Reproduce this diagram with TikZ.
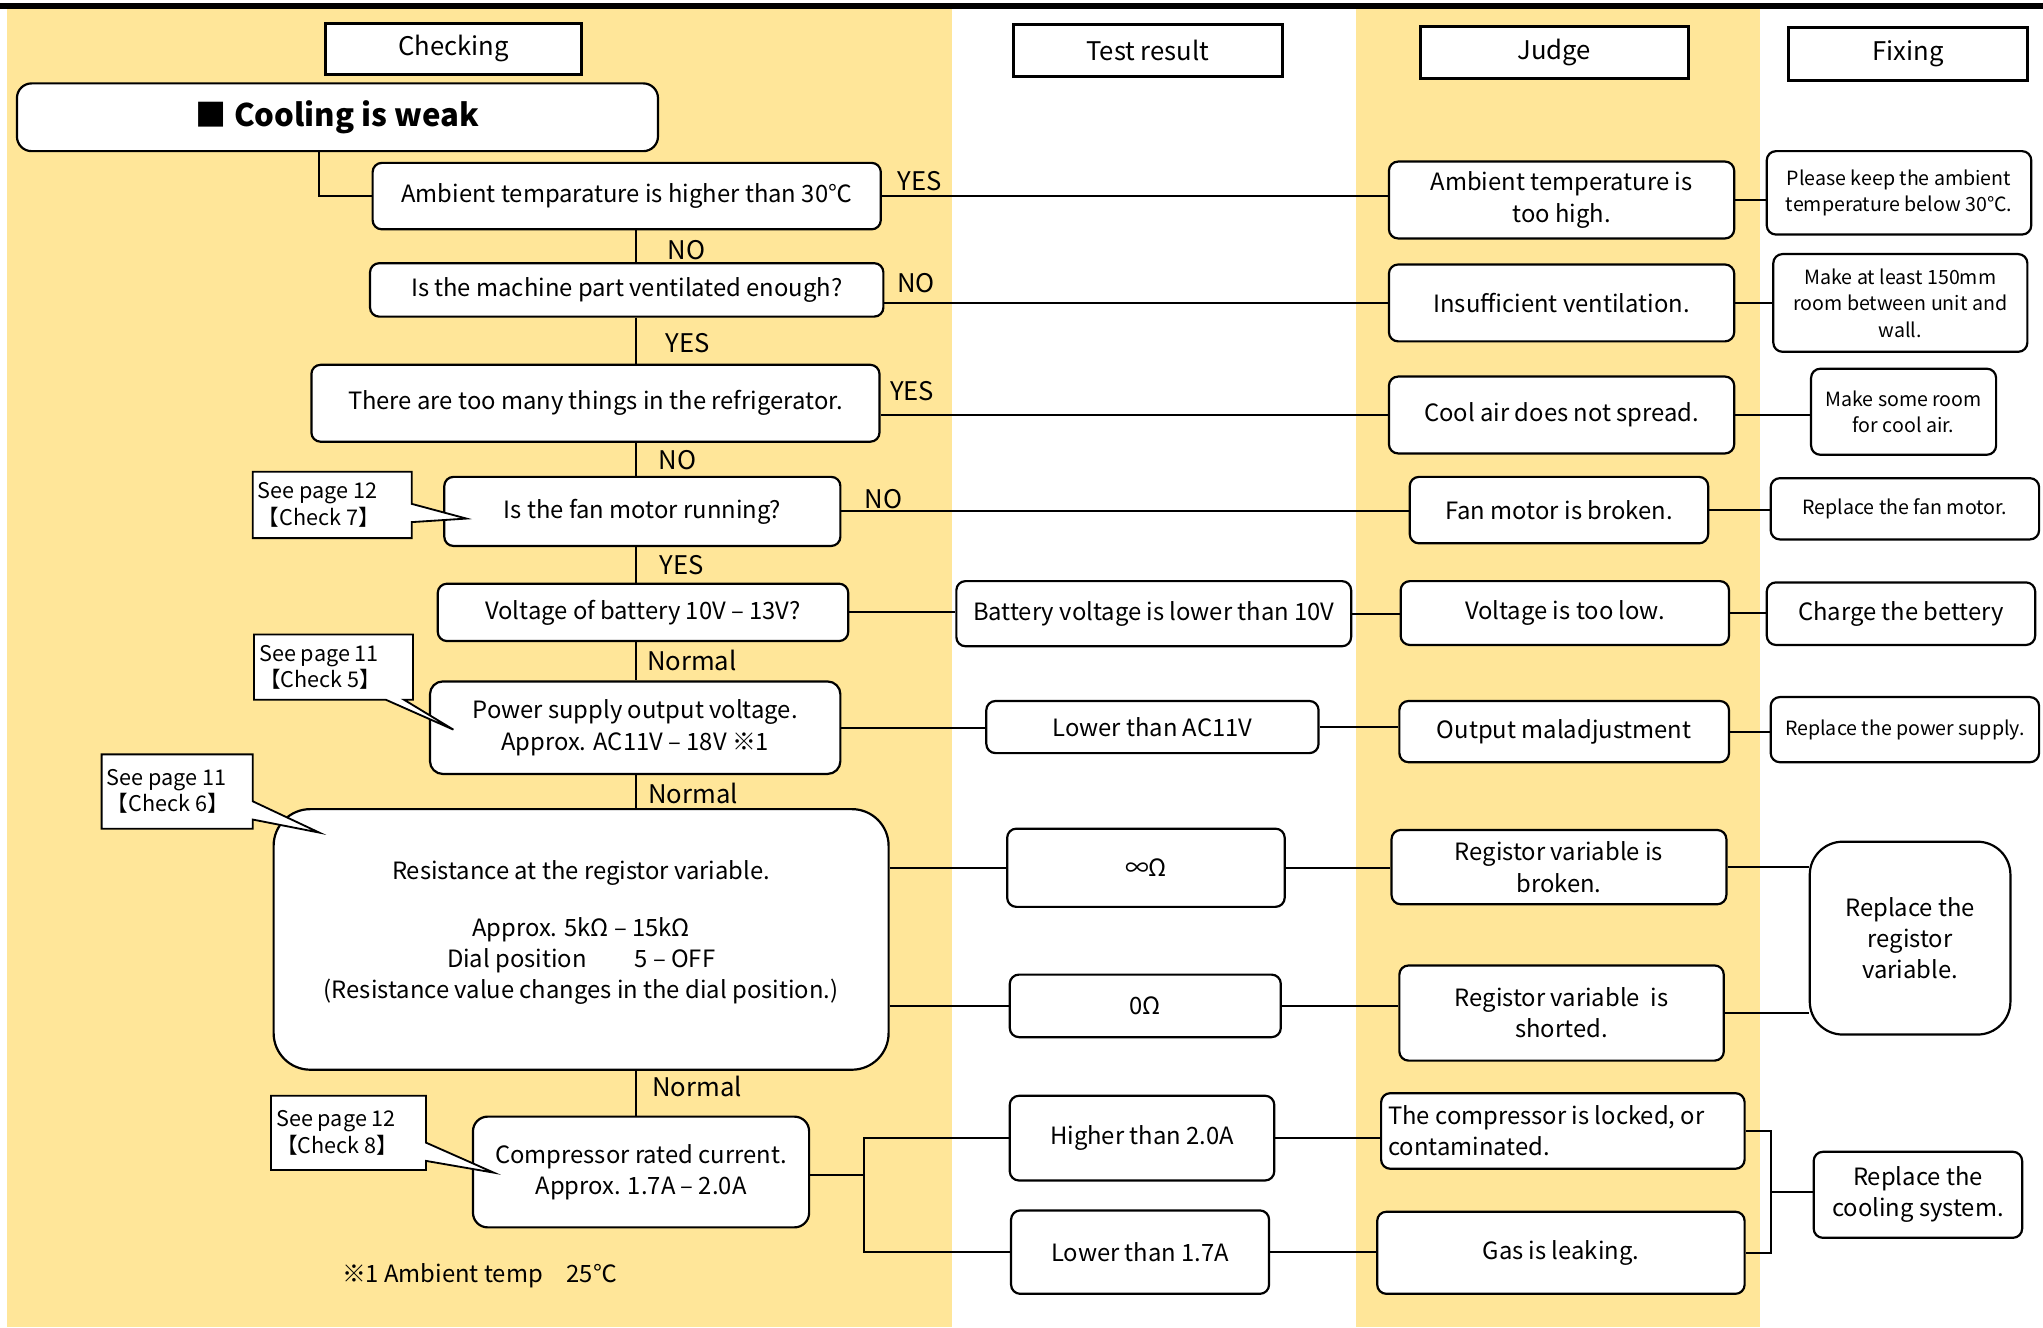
\documentclass[tikz,border=0pt]{standalone}
\usepackage{fontspec}
\setmainfont{Noto Sans CJK JP}
\usetikzlibrary{shapes.callouts}
\definecolor{band}{HTML}{FFE699}
\newcommand\fmain{\fontsize{13pt}{17pt}\selectfont}
\newcommand\fhead{\fontsize{14pt}{17pt}\selectfont}
\newcommand\fsmall{\fontsize{10.7pt}{14.5pt}\selectfont}
\newcommand\fcall{\fontsize{11.8pt}{14.3pt}\selectfont}
\newcommand\ftitle{\fontsize{17pt}{22pt}\selectfont\bfseries}
\begin{document}
\begin{tikzpicture}[x=0.025cm, y=-0.025cm, font=\fmain,
    sz/.style 2 args={minimum width=#1*0.025cm, minimum height=#2*0.025cm},
    head/.style={draw, line width=1.6pt, fill=white, inner sep=0, font=\fhead},
    box/.style={draw, line width=1.2pt, fill=white, rounded corners=5pt, inner sep=0, align=center},
    fixbox/.style={box, font=\fsmall},
    call/.style={rectangle callout, draw, line width=1pt, fill=white, font=\fcall, align=flush left,
        inner xsep=0.1cm, inner ysep=0, callout pointer width=0.35cm},
    lbl/.style={inner sep=0, font=\fhead},
    link/.style={line width=1pt}]
    \useasboundingbox (0,0) rectangle (1568,1018.5);
    \fill[band] (5,7) rectangle (731,1018.5);
    \fill[band] (1041,7) rectangle (1351,1018.5);
    \draw[line width=3pt] (0,4.5) -- (1568,4.5);

    \node[head, sz={196}{39}] (chk) at (348,37.5) {Checking};
    \node[head, sz={206}{40}] (tst) at (881,39) {Test result};
    \node[head, sz={206}{40}] (jdg) at (1193,40) {Judge};
    \node[head, sz={183}{41}] (fix) at (1464.5,41.5) {Fixing};
    \node[box, sz={492}{52}, font=\ftitle, rounded corners=8pt] (ttl) at (259,90) {■ Cooling is weak};

    \node[box, sz={390}{51}] (amb) at (481,150.5) {Ambient temparature is higher than 30℃};
    \node[box, sz={394}{41}] (vent) at (481,222.5) {Is the machine part ventilated enough?};
    \node[box, sz={436}{59}] (thg) at (457,309.5) {There are too many things in the refrigerator.};
    \node[box, sz={304}{53}] (fan) at (493,392.5) {Is the fan motor running?};
    \node[box, sz={315}{44}] (bat) at (493.5,470) {Voltage of battery 10V – 13V?};
    \node[box, sz={315}{71}, rounded corners=7pt] (psu) at (487.5,558.5) {Power supply output voltage.\\Approx. AC11V – 18V ※1};
    \node[box, sz={472}{200}, rounded corners=20pt] (res) at (446,721) {Resistance at the registor variable.\\[14pt]
        Approx. 5kΩ – 15kΩ\\Dial position\hspace{2em}5 – OFF\\(Resistance value changes in the dial position.)\\[-6pt]\mbox{}};
    \node[box, sz={258}{85}, rounded corners=8pt] (cmp) at (492,899.5) {Compressor rated current.\\Approx. 1.7A – 2.0A};

    \node[box, sz={303}{50}] (t1) at (885.5,471) {Battery voltage is lower than 10V};
    \node[box, sz={255}{40}] (t2) at (884.5,558) {Lower than AC11V};
    \node[box, sz={213}{60}] (t3) at (879.5,666) {∞Ω};
    \node[box, sz={208}{48}] (t4) at (879,772) {0Ω};
    \node[box, sz={203}{65}] (t5) at (876.5,873.5) {Higher than 2.0A};
    \node[box, sz={198}{64}] (t6) at (875,961) {Lower than 1.7A};

    \node[box, sz={265}{59}] (j1) at (1198.5,153.5) {Ambient temperature is\\too high.};
    \node[box, sz={265}{59}] (j2) at (1198.5,232.5) {Insufficient ventilation.};
    \node[box, sz={265}{59}] (j3) at (1198.5,318.5) {Cool air does not spread.};
    \node[box, sz={229}{51}] (j4) at (1196.5,391.5) {Fan motor is broken.};
    \node[box, sz={252}{49}] (j5) at (1201,470.5) {Voltage is too low.};
    \node[box, sz={253}{47}] (j6) at (1200.5,561.5) {Output maladjustment};
    \node[box, sz={257}{57}] (j7) at (1196.5,665.5) {Registor variable is\\broken.};
    \node[box, sz={249}{73}] (j8) at (1198.5,777.5) {Registor variable\ \ is\\shorted.};
    \node[box, sz={279}{58}, align=flush left, text width=6.7cm] (j9) at (1199.5,868) {The compressor is locked, or\\contaminated.};
    \node[box, sz={282}{63}] (j10) at (1198,961.5) {Gas is leaking.};

    \node[fixbox, sz={203}{64}] (f1) at (1457.5,148) {Please keep the ambient\\temperature below 30℃.};
    \node[fixbox, sz={195}{75}] (f2) at (1458.5,232.5) {Make at least 150mm\\room between unit and\\wall.};
    \node[fixbox, sz={142}{66}] (f3) at (1461,316) {Make some room\\for cool air.};
    \node[fixbox, sz={206}{47}] (f4) at (1462,390.5) {Replace the fan motor.};
    \node[box, sz={206}{48}] (f5) at (1459,471) {Charge the bettery};
    \node[fixbox, sz={206}{50}] (f6) at (1462,560) {Replace the power supply.};
    \node[box, sz={154}{148}, rounded corners=18pt] (f7) at (1466,720) {Replace the\\registor\\variable.};
    \node[box, sz={160}{66}] (f8) at (1472,917) {Replace the\\cooling system.};

    \node[lbl] (n1) at (527,192) {NO};
    \node[lbl] (n2) at (528,263) {YES};
    \node[lbl] (n3) at (520,353) {NO};
    \node[lbl] (n4) at (523,434) {YES};
    \node[lbl] (n5) at (531,507) {Normal};
    \node[lbl] (n6) at (532,609) {Normal};
    \node[lbl] (n7) at (535,834) {Normal};
    \node[lbl] (b1) at (706,139) {YES};
    \node[lbl] (b2) at (703,217) {NO};
    \node[lbl] (b3) at (700,300) {YES};
    \node[lbl] (b4) at (678,383) {NO};
    \node[lbl, font=\fmain] (note) at (368,979) {※1 Ambient temp\hspace{1em}25℃};

    \coordinate (k) at (488,0);
    \foreach \a/\b in {amb/vent,vent/thg,thg/fan,fan/bat,bat/psu,psu/res,res/cmp}
        \draw[link] (\a.south -| k) -- (\b.north -| k);
    \draw[link] ([xshift=-0.35cm]ttl.south) |- (amb.west);

    \draw[link] (amb.east) -- (amb.east -| j1.west);
    \draw[link] (vent.east |- j2.west) -- (j2.west);
    \draw[link] (thg.east |- j3.west) -- (j3.west);
    \draw[link] (fan.east) -- (fan.east -| j4.west);
    \draw[link] (bat.east) -- (bat.east -| t1.west);
    \draw[link] (t1.east) -- (t1.east -| j5.west);
    \draw[link] (psu.east) -- (psu.east -| t2.west);
    \draw[link] (t2.east) -- (t2.east -| j6.west);
    \draw[link] (res.east |- t3.west) -- (t3.west);
    \draw[link] (t3.east) -- (t3.east -| j7.west);
    \draw[link] (res.east |- t4.west) -- (t4.west);
    \draw[link] (t4.east) -- (t4.east -| j8.west);
    \coordinate (sp) at (663,902);
    \draw[link] (cmp.east |- sp) -- (sp);
    \draw[link] (t5.west) -| (sp) |- (t6.west);
    \draw[link] (t5.east) -- (t5.east -| j9.west);
    \draw[link] (t6.east) -- (t6.east -| j10.west);

    \draw[link] (j1.east) -- (j1.east -| f1.west);
    \draw[link] (j2.east) -- (j2.east -| f2.west);
    \draw[link] (j3.east) -- (j3.east -| f3.west);
    \draw[link] (j4.east) -- (j4.east -| f4.west);
    \draw[link] (j5.east) -- (j5.east -| f5.west);
    \draw[link] (j6.east) -- (j6.east -| f6.west);
    \draw[link] (j7.east) -- (j7.east -| f7.west);
    \draw[link] (j8.east) -- (j8.east -| f7.west);
    \coordinate (jn) at (1359,915);
    \draw[link] (j9.east) -| (jn) |- (j10.east);
    \draw[link] (jn) -- (jn -| f8.west);

    \node[call, sz={122}{51}, text width=2.85cm, callout absolute pointer={(358,398)}] (c7) at (255,387.5) {See page 12\\【Check 7】};
    \node[call, sz={122}{50}, text width=2.85cm, callout absolute pointer={(348,560)}] (c5) at (256,512) {See page 11\\【Check 5】};
    \node[call, sz={116}{57}, text width=2.7cm, callout absolute pointer={(245,639)}] (c6) at (136,607.5) {See page 11\\【Check 6】};
    \node[call, sz={119}{57}, text width=2.775cm, callout absolute pointer={(379,900)}] (c8) at (267.5,869.5) {See page 12\\【Check 8】};
\end{tikzpicture}
\end{document}
